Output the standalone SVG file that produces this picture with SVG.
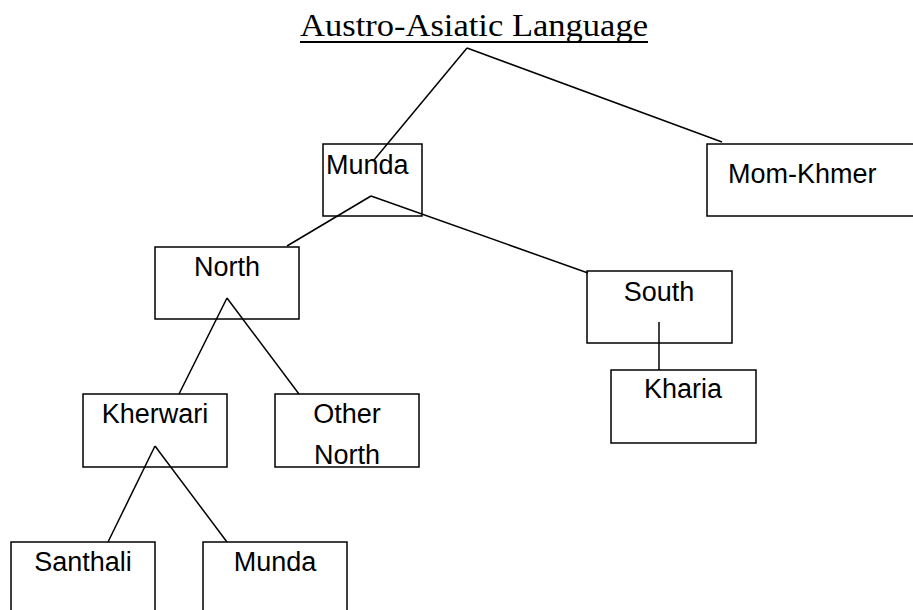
<svg xmlns="http://www.w3.org/2000/svg" width="913" height="610" viewBox="0 0 913 610">
<style>
.box{fill:#fff;stroke:#000;stroke-width:1.5}
.lbl{font-family:"Liberation Sans",Arial,sans-serif;font-size:27px;fill:#000}
.ttl{font-family:"Liberation Serif","Times New Roman",serif;font-size:31px;fill:#000}
.con line{stroke:#000;stroke-width:1.5}
</style>
<rect width="913" height="610" fill="#fff"/>
<g id="title">
<text class="ttl" x="300" y="36" textLength="348" lengthAdjust="spacingAndGlyphs">Austro-Asiatic Language</text>
<line x1="300" y1="42" x2="648" y2="42" stroke="#000" stroke-width="2"/>
</g>
<g id="munda-top"><rect class="box" x="323" y="144" width="99" height="72"/><text class="lbl" x="326" y="174">Munda</text></g>
<g id="mom-khmer"><rect class="box" x="707" y="144" width="230" height="72"/><text class="lbl" x="728" y="183">Mom-Khmer</text></g>
<g id="north"><rect class="box" x="155" y="247" width="144" height="72"/><text class="lbl" x="227" y="276" text-anchor="middle">North</text></g>
<g id="south"><rect class="box" x="587" y="271" width="145" height="72"/><text class="lbl" x="659" y="301" text-anchor="middle">South</text></g>
<g id="kharia"><rect class="box" x="611" y="370" width="145" height="73"/><text class="lbl" x="683" y="398" text-anchor="middle">Kharia</text></g>
<g id="kherwari"><rect class="box" x="83" y="394" width="144" height="73"/><text class="lbl" x="155" y="423" text-anchor="middle">Kherwari</text></g>
<g id="other-north"><rect class="box" x="275" y="394" width="144" height="73"/><text class="lbl" x="347" y="423" text-anchor="middle">Other</text><text class="lbl" x="347" y="464" text-anchor="middle">North</text></g>
<g id="santhali"><rect class="box" x="11" y="542" width="144" height="100"/><text class="lbl" x="83" y="571" text-anchor="middle">Santhali</text></g>
<g id="munda-bottom"><rect class="box" x="203" y="542" width="144" height="100"/><text class="lbl" x="275" y="571" text-anchor="middle">Munda</text></g>
<g id="connectors" class="con">
<line x1="467" y1="48" x2="374" y2="160"/>
<line x1="467" y1="48" x2="722" y2="142"/>
<line x1="371" y1="196" x2="287" y2="246"/>
<line x1="371" y1="196" x2="588" y2="273"/>
<line x1="227" y1="298" x2="179" y2="394"/>
<line x1="227" y1="298" x2="299" y2="394"/>
<line x1="155" y1="446" x2="108" y2="542"/>
<line x1="155" y1="446" x2="227" y2="542"/>
<line x1="659" y1="322" x2="659" y2="370"/>
</g>
</svg>
